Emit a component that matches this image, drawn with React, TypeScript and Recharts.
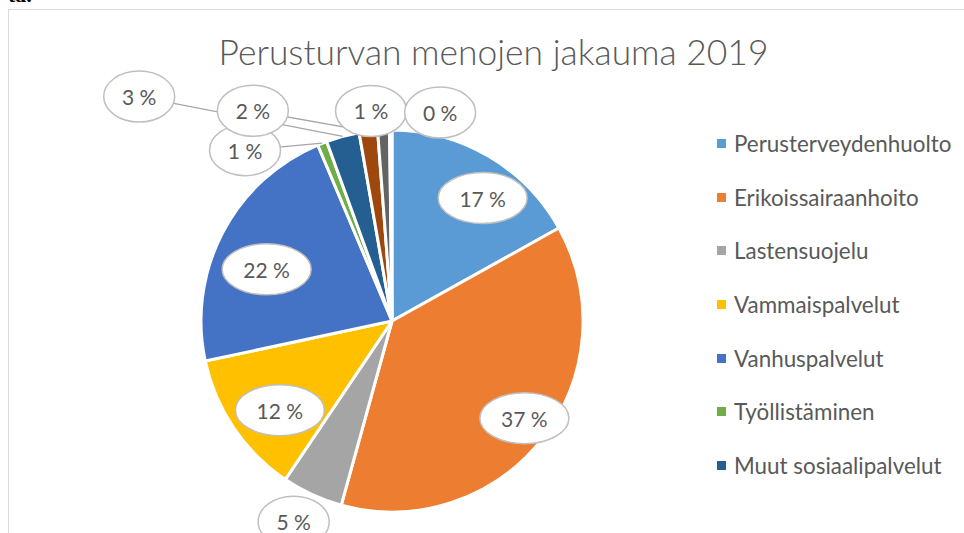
import React from "react";
import { PieChart, Pie, Cell, Legend } from "recharts";

// Slice names, shares (%) and Office palette colours, in drawing order (clockwise from 12 o'clock)
const CATEGORIES = [
  "Perusterveydenhuolto",
  "Erikoissairaanhoito",
  "Lastensuojelu",
  "Vammaispalvelut",
  "Vanhuspalvelut",
  "Työllistäminen",
  "Muut sosiaalipalvelut",
  "Ympäristöterveydenhuolto",
  "Hallinto",
  "Muut menot",
];
const SHARES = [16.9, 37.35, 5.15, 12.2, 22.0, 0.8, 2.8, 1.55, 1.0, 0.2];
const COLORS = [
  "#5B9BD5",
  "#ED7D31",
  "#A5A5A5",
  "#FFC000",
  "#4472C4",
  "#70AD47",
  "#255E91",
  "#9E480E",
  "#636363",
  "#997300",
];
// the legend box only has room for the first seven entries
const LEGEND_VISIBLE = 7;

// label placement: [angle clockwise from north in degrees, distance as share of radius]
const LABEL_PLACE: [number, number][] = [
  [36.4, 0.8],
  [126.3, 0.86],
  [206.1, 1.17],
  [231.5, 0.75],
  [292.4, 0.71],
  [319.3, 1.18],
  [311.6, 1.77],
  [326.5, 1.32],
  [354.3, 1.105],
  [13, 1.12],
];
const LEADER = [false, false, false, false, false, true, true, true, false, false];

const TEXT = "#595959";
const FONT = "Lato, 'Open Sans', sans-serif";
const RAD = Math.PI / 180;

const data = CATEGORIES.map((name, i) => ({ name, value: SHARES[i] }));

const renderLabel = (props: any) => {
  const { cx, cy, midAngle, outerRadius, percent, index } = props;
  const [deg, f] = LABEL_PLACE[index];
  const lx = cx + outerRadius * f * Math.sin(deg * RAD);
  const ly = cy - outerRadius * f * Math.cos(deg * RAD);
  const ex = cx + outerRadius * Math.cos(-midAngle * RAD);
  const ey = cy + outerRadius * Math.sin(-midAngle * RAD);
  const text = `${Math.round(percent * 100)} %`;
  const rx = text.length > 3 ? 44.5 : 35.5;
  return (
    <g key={`lbl-${index}`}>
      {LEADER[index] && (
        <line x1={lx} y1={ly} x2={ex} y2={ey} stroke="#A6A6A6" strokeWidth={1.3} />
      )}
      <ellipse cx={lx} cy={ly} rx={rx} ry={25.5} fill="#fff" stroke="#BFBFBF" strokeWidth={1.5} />
      <text
        x={lx}
        y={ly}
        textAnchor="middle"
        dominantBaseline="central"
        fill={TEXT}
        fontFamily={FONT}
        fontSize={21}
      >
        {text}
      </text>
    </g>
  );
};

const renderLegend = () => (
  <div style={{ fontFamily: FONT }}>
    {CATEGORIES.slice(0, LEGEND_VISIBLE).map((name, i) => (
      <div
        key={name}
        style={{ height: 53.7, display: "flex", alignItems: "center", whiteSpace: "nowrap" }}
      >
        <span
          style={{ width: 9, height: 9, background: COLORS[i], display: "inline-block", marginRight: 8 }}
        />
        <span style={{ fontSize: 22.4, color: TEXT }}>{name}</span>
      </div>
    ))}
  </div>
);

export default function App() {
  return (
    <div
      style={{
        position: "fixed",
        left: 0,
        top: 0,
        width: 964,
        height: 533,
        overflow: "hidden",
        background: "#fff",
      }}
    >
      <div
        style={{
          position: "absolute",
          left: 8,
          top: 9,
          width: 1100,
          height: 700,
          border: "1.5px solid #D9D9D9",
        }}
      />
      <svg width={964} height={80} style={{ position: "absolute", left: 0, top: 0 }}>
        <text x={8} y={2} fontFamily="'Liberation Serif', serif" fontWeight="bold" fontSize={22} fill="#000">
          ta.
        </text>
        <text
          x={493.5}
          y={65}
          textAnchor="middle"
          fontFamily={FONT}
          fontWeight={300}
          fontSize={35.4}
          fill={TEXT}
        >
          Perusturvan menojen jakauma 2019
        </text>
      </svg>
      <div style={{ position: "absolute", left: 0, top: 0 }}>
        <PieChart width={964} height={533} margin={{ top: 0, right: 0, bottom: 0, left: 0 }}>
          <Pie
            data={data}
            dataKey="value"
            nameKey="name"
            cx={392}
            cy={321}
            outerRadius={191}
            startAngle={90}
            endAngle={-270}
            stroke="#fff"
            strokeWidth={3}
            labelLine={false}
            label={renderLabel}
            isAnimationActive={false}
          >
            {data.map((d, i) => (
              <Cell key={d.name} fill={COLORS[i]} />
            ))}
          </Pie>
          <Legend
            layout="vertical"
            verticalAlign="top"
            align="right"
            content={renderLegend}
            wrapperStyle={{ position: "absolute", left: 717, top: 116.5, width: 240 }}
          />
        </PieChart>
      </div>
    </div>
  );
}
